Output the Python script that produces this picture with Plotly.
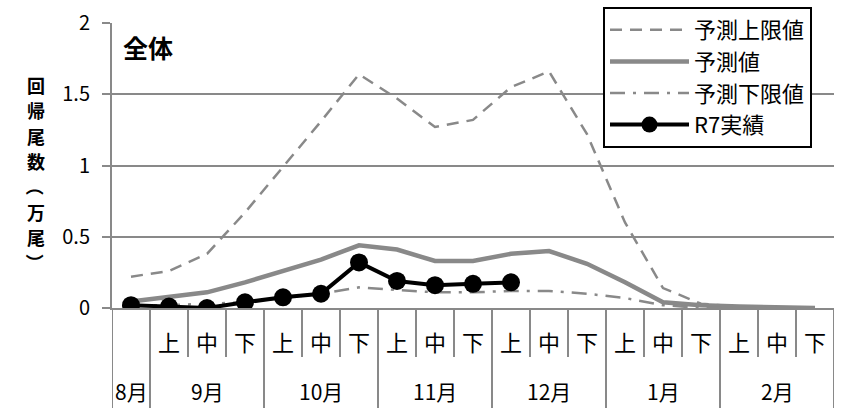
"""Line chart: forecast band vs R7 actual returns."""
import plotly.graph_objects as go

FONT = "Noto Sans CJK JP"
GRAY = "rgb(137, 137, 137)"

MONTHS = ["8月", "9月", "10月", "11月", "12月", "1月", "2月"]
SUBS = {"8月": [""]}
DEFAULT_SUBS = ["上", "中", "下"]

UPPER = [0.22, 0.26, 0.38, 0.67, 0.99, 1.31, 1.64, 1.47, 1.27, 1.32,
         1.55, 1.66, 1.22, 0.60, 0.14, 0.03, 0.01, 0.0, 0.0]
FORECAST = [0.045, 0.08, 0.11, 0.18, 0.26, 0.34, 0.44, 0.41, 0.33, 0.33,
            0.38, 0.40, 0.31, 0.18, 0.04, 0.02, 0.01, 0.005, 0.0]
LOWER = [0.02, 0.02, 0.03, 0.04, 0.07, 0.10, 0.145, 0.13, 0.11, 0.11,
         0.12, 0.12, 0.10, 0.07, 0.02, 0.0, 0.0, 0.0, 0.0]
ACTUAL = [0.02, 0.01, 0.0, 0.04, 0.075, 0.10, 0.32, 0.19, 0.16, 0.17, 0.18]

Y_TICKS = [0, 0.5, 1, 1.5, 2]
Y_TITLE = "回帰尾数（万尾）"
PANEL_TITLE = "全体"

# category keys, sub labels and month spans
cats, sub_labels, month_span = [], [], {}
for m in MONTHS:
    start = len(cats)
    for s in SUBS.get(m, DEFAULT_SUBS):
        cats.append(m + s)
        sub_labels.append(s)
    month_span[m] = (start, len(cats) - 1)

W, H = 856, 414
ML, MR, MT, MB = 112, 22, 7, 106
PW = W - ML - MR
PH = H - MT - MB          # paper area (legend sits inside it)
AXIS_TOP = 23             # pixel row of y = 2


def py(px):
    # pixel row in the figure -> paper y
    return (H - MB - px) / PH


def px_x(px):
    return (px - ML) / PW


fig = go.Figure()
fig.add_trace(go.Scatter(
    x=cats, y=UPPER, name="予測上限値", mode="lines",
    line=dict(color=GRAY, width=2.5, dash="12px,8px"),
))
fig.add_trace(go.Scatter(
    x=cats, y=FORECAST, name="予測値", mode="lines",
    line=dict(color=GRAY, width=4.5),
))
fig.add_trace(go.Scatter(
    x=cats, y=LOWER, name="予測下限値", mode="lines",
    line=dict(color=GRAY, width=2.5, dash="15px,8px,3px,8px"),
))
fig.add_trace(go.Scatter(
    x=cats[:len(ACTUAL)], y=ACTUAL, name="R7実績", mode="lines+markers",
    line=dict(color="black", width=4), marker=dict(color="black", size=18),
))

shapes, annotations = [], []
# separators under the axis: short between sub-periods, long between months
boundaries_long = {-0.5}
for m in MONTHS:
    a, b = month_span[m]
    boundaries_long.add(b + 0.5)
zero_px = H - MB
for i in range(len(cats) + 1):
    xb = i - 0.5
    depth = 100 if xb in boundaries_long else 49
    shapes.append(dict(type="line", xref="x", yref="paper", x0=xb, x1=xb,
                       y0=0, y1=py(zero_px + depth), line=dict(color=GRAY, width=2)))

for c, s in zip(cats, sub_labels):
    if s:
        annotations.append(dict(x=c, y=py(zero_px + 33), xref="x", yref="paper", text=s,
                                xanchor="center", yanchor="middle",
                                showarrow=False, font=dict(size=22, color="black")))
for m in MONTHS:
    a, b = month_span[m]
    annotations.append(dict(x=(a + b) / 2, y=py(zero_px + 83), xref="x", yref="paper", text=m,
                            xanchor="center", yanchor="middle",
                            showarrow=False, font=dict(size=21, color="black")))

# vertical (stacked) axis title, one glyph per row; brackets turned as in tategaki
title_top, title_step = 85, 25.4
for k, ch in enumerate(Y_TITLE):
    turned = ch in "（）"
    annotations.append(dict(
        x=px_x(36), y=py(title_top + k * title_step), xref="paper", yref="paper",
        xanchor="center", yanchor="middle", text="<b>" + ch + "</b>", showarrow=False,
        textangle=90 if turned else 0,
        font=dict(size=18, color="black"),
    ))
annotations.append(dict(
    x=px_x(121), y=py(47), xref="paper", yref="paper", xanchor="left", yanchor="middle",
    text="<b>" + PANEL_TITLE + "</b>", showarrow=False,
    font=dict(size=25, color="black"),
))

fig.update_layout(
    width=W, height=H,
    margin=dict(l=ML, r=MR, t=MT, b=MB, autoexpand=False),
    paper_bgcolor="white", plot_bgcolor="white",
    font=dict(family=FONT, color="black"),
    shapes=shapes, annotations=annotations,
    legend=dict(
        x=px_x(603), y=1, xanchor="left", yanchor="top",
        bgcolor="white", bordercolor="black", borderwidth=2,
        font=dict(size=22, color="black"), itemwidth=79,
        entrywidth=190,
    ),
    xaxis=dict(
        type="category", range=[-0.5, len(cats) - 0.5], showgrid=False,
        showticklabels=False, ticks="", showline=True, linecolor=GRAY, linewidth=2,
        zeroline=False, automargin=False,
    ),
    yaxis=dict(
        domain=[0, (H - MB - AXIS_TOP) / PH],
        range=[0, 2], tickvals=Y_TICKS, ticktext=[f"{v:g}" for v in Y_TICKS],
        showgrid=True, gridcolor=GRAY, gridwidth=2, ticks="outside", ticklen=8,
        tickcolor=GRAY, tickwidth=2, showline=True, linecolor=GRAY, linewidth=2,
        zeroline=False, tickfont=dict(size=20, color="black"), ticklabelstandoff=8,
        automargin=False,
    ),
)

# the page body has a default 8px margin; drop it so the figure sits at the origin
fig.write_html("out.html", config={"displayModeBar": False},
               post_script="document.body.style.margin = '0';")
